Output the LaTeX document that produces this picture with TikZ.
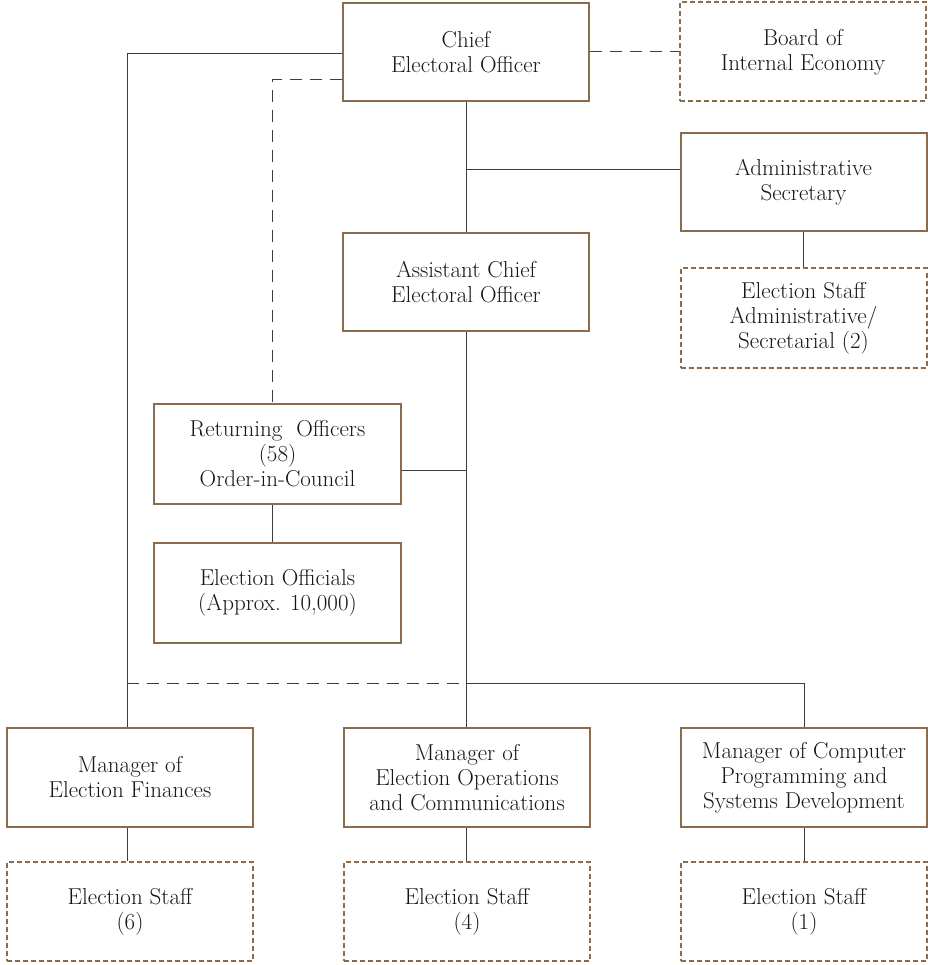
\documentclass[tikz,border=0pt]{standalone}
\usetikzlibrary{calc}
\definecolor{boxbrown}{RGB}{140,108,76}
\definecolor{conncol}{RGB}{60,60,60}
\definecolor{txtcol}{RGB}{25,22,22}
\begin{document}
\begin{tikzpicture}[x=1pt,y=-1pt,
  every node/.style={font=\fontsize{23}{25}\selectfont, text=txtcol, align=center, inner sep=0pt},
  solidbox/.style={draw=boxbrown, line width=2pt, fill=white, minimum width=246pt, minimum height=98pt},
  dashbox/.style={draw=boxbrown, line width=2pt, dash pattern=on 5pt off 3pt, fill=white, minimum width=246pt, minimum height=99pt},
  conn/.style={draw=conncol, line width=1pt},
  dconn/.style={draw=conncol, line width=1pt, dash pattern=on 12pt off 8pt}]
\useasboundingbox (0,0) rectangle (927,965);
\fill[white] (0,0) rectangle (927,965);

% nodes
\node[solidbox] (chief) at (466,52) {Chief\\Electoral Officer};
\node[dashbox] (board) at (803,52) {Board of\\Internal Economy};
\node[solidbox] (admin) at (803.5,182.5) {Administrative\\Secretary};
\node[dashbox] (adstaff) at (803.5,318) {Election Staff\\Administrative/\\Secretarial (2)};
\node[solidbox] (asst) at (466,282) {Assistant Chief\\Electoral Officer};
\node[solidbox, minimum width=247pt, minimum height=100pt] (ret) at (277.5,454) {Returning\ \ Officers\\(58)\\Order-in-Council};
\node[solidbox, minimum width=247pt, minimum height=100pt] (offs) at (277.5,593) {Election Officials\\(Approx. 10,000)};
\node[solidbox, minimum height=99pt] (fin) at (130,777.5) {Manager of\\Election Finances};
\node[solidbox, minimum height=99pt] (ops) at (467,777.5) {Manager of\\Election Operations\\and Communications};
\node[solidbox, minimum height=99pt] (comp) at (804,777.5) {Manager of Computer\\Programming and\\Systems Development};
\node[dashbox] (finstaff) at (130,911.5) {Election Staff\\(6)};
\node[dashbox] (opsstaff) at (467,911.5) {Election Staff\\(4)};
\node[dashbox] (compstaff) at (804,911.5) {Election Staff\\(1)};

% junction coordinates
\coordinate (jadmin) at (466,170);
\coordinate (jret) at (466,470);
\coordinate (jmgr) at (466,683);
\coordinate (jleft) at (127,683);

% connectors
\draw[dconn] (chief.east) -- (board.west);
\draw[conn] (chief.south) -- (asst.north);
\draw[conn] (jadmin) -- (jadmin -| admin.west);
\draw[conn] (admin.south) -- (adstaff.north);
\draw[conn] ([yshift=-2pt]chief.west) -| ([xshift=-3pt]fin.north);
\draw[dconn] ([yshift=-28pt]chief.west) -| ([xshift=-5.5pt]ret.north);
\draw[conn] ([xshift=-5.5pt]ret.south) -- ([xshift=-5.5pt]offs.north);
\draw[conn] (jret -| ret.east) -- (jret);
\draw[conn] (asst.south) -- ([xshift=-1pt]ops.north);
\draw[conn] (jmgr) -| (comp.north);
\draw[dconn] (jleft) -- (jmgr);
\draw[conn] ([xshift=-3pt]fin.south) -- ([xshift=-3pt]finstaff.north);
\draw[conn] ([xshift=-1pt]ops.south) -- ([xshift=-1pt]opsstaff.north);
\draw[conn] (comp.south) -- (compstaff.north);
\end{tikzpicture}
\end{document}
